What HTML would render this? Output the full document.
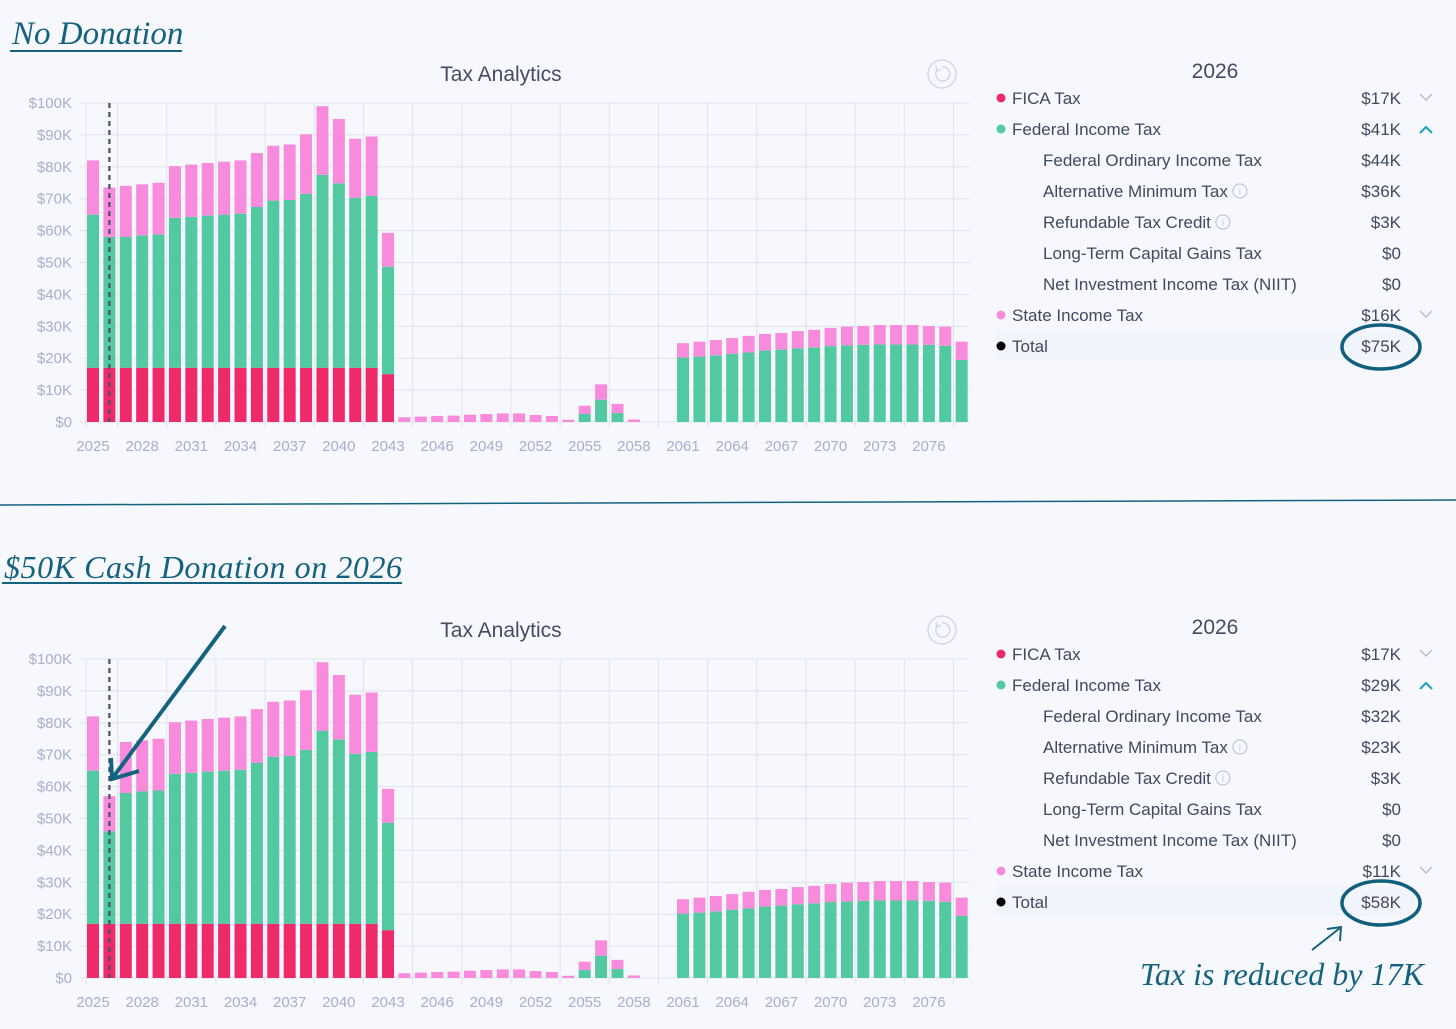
<!DOCTYPE html>
<html><head><meta charset="utf-8"><style>
body{margin:0;width:1456px;height:1029px;background:#f6f8fd;overflow:hidden;font-family:"Liberation Sans",sans-serif;}
svg{position:absolute;left:0;top:0}
</style></head><body>
<svg id="root" width="1456" height="1029"></svg>
<script>
const years=[];for(let y=2025;y<=2078;y++)years.push(y);
const ficaTop=[17,17,17,17,17,17,17,17,17,17,17,17,17,17,17,17,17,17,15,0,0,0,0,0,0,0,0,0,0,0,0,0,0,0,0,0,0,0,0,0,0,0,0,0,0,0,0,0,0,0,0,0,0,0];
const fedTop=[48,41,41,41.5,41.8,47,47.3,47.7,48,48.3,50.4,52.4,52.6,54.5,60.5,57.8,53.3,53.9,33.7,0,0,0,0,0,0,0,0,0,0,0,2.5,7,2.8,0,0,0,20.2,20.5,20.9,21.4,21.8,22.4,22.7,23.1,23.4,23.8,24,24.2,24.3,24.3,24.3,24.2,23.9,19.5];
const stateTop=[17,15.5,16,16,16.2,16.2,16.4,16.5,16.6,16.7,16.9,17.2,17.4,18.7,21.5,20.2,18.5,18.6,10.6,1.5,1.7,1.9,2,2.3,2.5,2.7,2.7,2.2,1.9,0.7,2.6,4.8,2.9,0.8,0,0,4.5,4.7,4.8,4.9,5.2,5.2,5.2,5.4,5.5,5.7,5.9,5.9,6.1,6.1,6.1,5.9,6,5.7];
const ficaBot=ficaTop.slice();
const fedBot=fedTop.slice();fedBot[1]=29;
const stateBot=stateTop.slice();stateBot[1]=11;
const yTicks=[0,10,20,30,40,50,60,70,80,90,100];
const rowsTop=[["FICA Tax","$17K","#ee2a6b","down",0],["Federal Income Tax","$41K","#52c9a0","up",0],["Federal Ordinary Income Tax","$44K",null,"",1],["Alternative Minimum Tax","$36K",null,"i",1],["Refundable Tax Credit","$3K",null,"i",1],["Long-Term Capital Gains Tax","$0",null,"",1],["Net Investment Income Tax (NIIT)","$0",null,"",1],["State Income Tax","$16K","#f98bdc","down",0],["Total","$75K","#000","",0]];
const rowsBot=[["FICA Tax","$17K","#ee2a6b","down",0],["Federal Income Tax","$29K","#52c9a0","up",0],["Federal Ordinary Income Tax","$32K",null,"",1],["Alternative Minimum Tax","$23K",null,"i",1],["Refundable Tax Credit","$3K",null,"i",1],["Long-Term Capital Gains Tax","$0",null,"",1],["Net Investment Income Tax (NIIT)","$0",null,"",1],["State Income Tax","$11K","#f98bdc","down",0],["Total","$58K","#000","",0]];

const NS="http://www.w3.org/2000/svg";
const root=document.getElementById('root');
function el(tag,attrs,parent,text){const e=document.createElementNS(NS,tag);for(const k in attrs)e.setAttribute(k,attrs[k]);if(text!==undefined)e.textContent=text;(parent||root).appendChild(e);return e;}

function chart(off,fica,fed,state,rows,name){
  const g=el('g',{transform:'translate(0,'+off+')'});
  
  
  const y0=422,pxK=3.19,x0=93,band=16.39,bw=12;
  const ys=v=>y0-v*pxK, xs=i=>x0+i*band;
  el('text',{x:501,y:81,'text-anchor':'middle','font-size':21,fill:'#464b63',},g,'Tax Analytics');
  const rb=el('g',{},g);
  
  
  el('circle',{cx:942,cy:74,r:14,fill:'none',stroke:'#d5d8e2','stroke-width':1.5},rb);
  el('path',{d:'M937 70 A7 7 0 1 0 942 67',fill:'none',stroke:'#d5d8e2','stroke-width':1.5},rb);
  el('path',{d:'M936 66 L937 71 L941 69',fill:'none',stroke:'#d5d8e2','stroke-width':1.5},rb);
  yTicks.forEach(t=>{
    el('line',{x1:80,x2:970,y1:ys(t),y2:ys(t),stroke:'#e0e3ea','stroke-width':1},g);
    const tx=el('text',{x:72,y:ys(t)+5,'text-anchor':'end','font-size':15,fill:'#a9aeca'},g,'$'+(t?t+'K':'0'));
    
    
  });
  el('line',{x1:86,x2:86,y1:ys(100),y2:y0+6,stroke:'#e0e3ea'},g);
  for(let k=0;k<18;k++){const x=x0+1.5*band+k*3*band;if(x>972)break;el('line',{x1:x,x2:x,y1:ys(100),y2:y0+6,stroke:'#e0e3ea'},g);}
  years.forEach((yr,i)=>{
    const x=xs(i)-bw/2;let base=0;
    [[fica[i],'#ee2a6b','fica'],[fed[i],'#52c9a0','federal'],[state[i],'#f98bdc','state']].forEach(([v,c,n])=>{
      if(v>0){const r=el('rect',{x:x,y:ys(base+v),width:bw,height:v*pxK,fill:c},g);
      
      }
      base+=v;});
    if(i%3===0){const t=el('text',{x:xs(i),y:451,'text-anchor':'middle','font-size':15,fill:'#a9aeca'},g,String(yr));
      
      }
  });
  const dl=el('line',{x1:xs(1),x2:xs(1),y1:ys(100),y2:y0,stroke:'#4a4f66','stroke-width':2.2,'stroke-dasharray':'5,4'},g);
  
  
  el('text',{x:1215,y:78,'text-anchor':'middle','font-size':21,fill:'#464b63'},g,'2026');
  rows.forEach((r,j)=>{
    const y=98+j*31;
    if(r[0]==='Total')el('rect',{x:995,y:y-16,width:420,height:30,fill:'#f1f4fa'},g);
    const rg=el('g',{},g);
    
    
    if(r[2])el('circle',{cx:1001,cy:y,r:4.5,fill:r[2]},rg);
    const lx=r[4]?1043:1012;
    const lt=el('text',{x:lx,y:y+6,'font-size':17,fill:'#43485f'},rg,r[0]);
    el('text',{x:1401,y:y+6,'text-anchor':'end','font-size':17,fill:'#43485f'},rg,r[1]);
    if(r[3]==='down')el('path',{d:`M1420 ${y-4} L1426 ${y+2} L1432 ${y-4}`,fill:'none',stroke:'#b9bdd0','stroke-width':1.5},rg);
    if(r[3]==='up')el('path',{d:`M1420 ${y+4} L1426 ${y-2} L1432 ${y+4}`,fill:'none',stroke:'#1a9fc4','stroke-width':2},rg);
    if(r[3]==='i'){const w=lt.getComputedTextLength();el('circle',{cx:lx+w+12,cy:y,r:7,fill:'none',stroke:'#c3c7d6','stroke-width':1.2},rg);el('text',{x:lx+w+12,y:y+4,'text-anchor':'middle','font-size':10,fill:'#c3c7d6'},rg,'i');}
    if(r[0]==='Total')el('ellipse',{cx:1381,cy:y+1,rx:39,ry:22,fill:'none',stroke:'#0f5f7d','stroke-width':3.5},rg);
  });
}
chart(0,ficaTop,fedTop,stateTop,rowsTop,'chart-no-donation');
chart(556,ficaBot,fedBot,stateBot,rowsBot,'chart-cash-donation');

el('text',{x:12,y:44,'font-size':33,'font-style':'italic',fill:'#14627f','font-family':'Liberation Serif, serif',},root,'No Donation');
el('line',{x1:10,x2:182,y1:51,y2:51,stroke:'#14627f','stroke-width':2});
el('line',{x1:0,x2:1456,y1:505,y2:500,stroke:'#14627f','stroke-width':1.5,});
el('text',{x:4,y:578,'font-size':32,'font-style':'italic',fill:'#14627f','font-family':'Liberation Serif, serif','textLength':398,},root,'$50K Cash Donation on 2026');
el('line',{x1:2,x2:402,y1:583,y2:583,stroke:'#14627f','stroke-width':2});
el('line',{x1:225,y1:626,x2:114,y2:776,stroke:'#14627f','stroke-width':4,});
el('path',{d:'M111 758 L112 779 L139 771',fill:'none',stroke:'#14627f','stroke-width':4});
el('line',{x1:1312,y1:950,x2:1340,y2:928,stroke:'#14627f','stroke-width':2});
el('path',{d:'M1327 929 L1341 927 L1340 941',fill:'none',stroke:'#14627f','stroke-width':2});
el('text',{x:1140,y:985,'font-size':32,'font-style':'italic',fill:'#14627f','font-family':'Liberation Serif, serif',},root,'Tax is reduced by 17K');
</script>
</body></html>
